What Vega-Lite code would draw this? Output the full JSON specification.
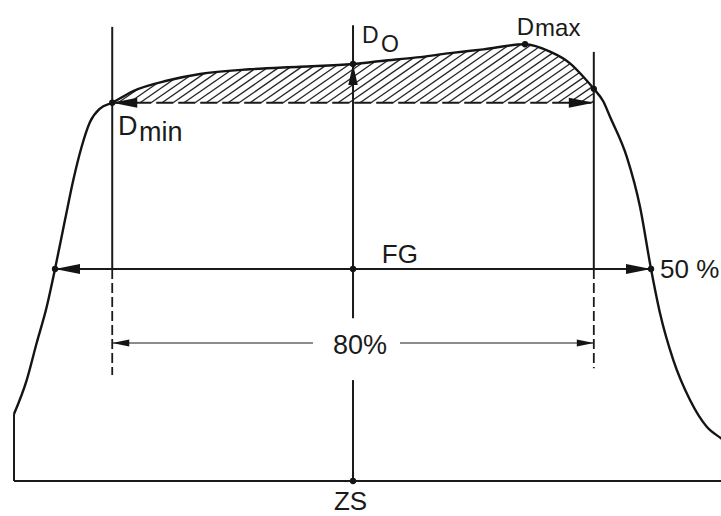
{
  "$schema": "https://vega.github.io/schema/vega-lite/v6.json",
  "description": "Dose profile across a radiation field: field size FG at the 50 % level, flatness zone at 80 % of FG, with D_O, D_max and D_min marked.",
  "width": 721,
  "height": 516,
  "autosize": {"type": "fit", "contains": "padding"},
  "padding": 0,
  "background": "white",
  "config": {"view": {"stroke": null}},
  "datasets": {
    "profile": [
      {"pos": -56.88, "dose": 15.8},
      {"pos": -54.75, "dose": 23.8},
      {"pos": -53.07, "dose": 32.6},
      {"pos": -51.39, "dose": 41.1},
      {"pos": -50.0, "dose": 50.0},
      {"pos": -48.32, "dose": 61.6},
      {"pos": -46.93, "dose": 71.0},
      {"pos": -45.52, "dose": 78.9},
      {"pos": -44.13, "dose": 84.67},
      {"pos": -42.45, "dose": 87.85},
      {"pos": -40.4, "dose": 89.2},
      {"pos": -36.86, "dose": 91.98},
      {"pos": -31.1, "dose": 94.46},
      {"pos": -25.67, "dose": 96.0},
      {"pos": -17.28, "dose": 97.1},
      {"pos": -8.89, "dose": 97.7},
      {"pos": 0, "dose": 98.35},
      {"pos": 5.08, "dose": 99.1},
      {"pos": 10.69, "dose": 99.9},
      {"pos": 16.28, "dose": 100.9},
      {"pos": 21.86, "dose": 101.8},
      {"pos": 28.86, "dose": 103.0},
      {"pos": 33.05, "dose": 101.25},
      {"pos": 36.41, "dose": 98.5},
      {"pos": 38.64, "dose": 95.35},
      {"pos": 40.4, "dose": 92.5},
      {"pos": 42.0, "dose": 89.5},
      {"pos": 43.12, "dose": 85.9},
      {"pos": 45.92, "dose": 76.5},
      {"pos": 48.15, "dose": 64.7},
      {"pos": 50.0, "dose": 50.0},
      {"pos": 51.51, "dose": 39.55},
      {"pos": 53.74, "dose": 28.5},
      {"pos": 56.54, "dose": 19.1},
      {"pos": 59.35, "dose": 12.8},
      {"pos": 61.74, "dose": 10.1},
      {"pos": 63.5, "dose": 8.4}
    ],
    "hatch": [
      {"pos": -39.43, "dose": 89.2, "pos2": -35.87, "dose2": 92.64},
      {"pos": -37.58, "dose": 89.2, "pos2": -32.68, "dose2": 93.97},
      {"pos": -35.74, "dose": 89.2, "pos2": -29.82, "dose2": 94.98},
      {"pos": -33.89, "dose": 89.2, "pos2": -27.23, "dose2": 95.71},
      {"pos": -32.05, "dose": 89.2, "pos2": -24.83, "dose2": 96.25},
      {"pos": -30.2, "dose": 89.2, "pos2": -22.75, "dose2": 96.48},
      {"pos": -28.36, "dose": 89.2, "pos2": -20.67, "dose2": 96.71},
      {"pos": -26.51, "dose": 89.2, "pos2": -18.59, "dose2": 96.94},
      {"pos": -24.66, "dose": 89.2, "pos2": -16.54, "dose2": 97.14},
      {"pos": -22.82, "dose": 89.2, "pos2": -14.55, "dose2": 97.29},
      {"pos": -20.97, "dose": 89.2, "pos2": -12.55, "dose2": 97.44},
      {"pos": -19.13, "dose": 89.2, "pos2": -10.54, "dose2": 97.6},
      {"pos": -17.28, "dose": 89.2, "pos2": -8.56, "dose2": 97.74},
      {"pos": -15.44, "dose": 89.2, "pos2": -6.59, "dose2": 97.85},
      {"pos": -13.59, "dose": 89.2, "pos2": -4.56, "dose2": 98.03},
      {"pos": -11.74, "dose": 89.2, "pos2": -2.58, "dose2": 98.17},
      {"pos": -9.9, "dose": 89.2, "pos2": -0.6, "dose2": 98.3},
      {"pos": -8.05, "dose": 89.2, "pos2": 1.53, "dose2": 98.58},
      {"pos": -6.21, "dose": 89.2, "pos2": 3.72, "dose2": 98.92},
      {"pos": -4.36, "dose": 89.2, "pos2": 5.89, "dose2": 99.24},
      {"pos": -2.52, "dose": 89.2, "pos2": 8.05, "dose2": 99.55},
      {"pos": -0.67, "dose": 89.2, "pos2": 10.2, "dose2": 99.85},
      {"pos": 1.17, "dose": 89.2, "pos2": 12.42, "dose2": 100.21},
      {"pos": 3.02, "dose": 89.2, "pos2": 14.65, "dose2": 100.59},
      {"pos": 4.87, "dose": 89.2, "pos2": 16.88, "dose2": 100.97},
      {"pos": 6.71, "dose": 89.2, "pos2": 19.11, "dose2": 101.35},
      {"pos": 8.56, "dose": 89.2, "pos2": 21.34, "dose2": 101.73},
      {"pos": 10.4, "dose": 89.2, "pos2": 23.57, "dose2": 102.11},
      {"pos": 12.25, "dose": 89.2, "pos2": 25.81, "dose2": 102.49},
      {"pos": 14.09, "dose": 89.2, "pos2": 28.02, "dose2": 102.85},
      {"pos": 15.94, "dose": 89.2, "pos2": 29.66, "dose2": 102.66},
      {"pos": 17.79, "dose": 89.2, "pos2": 30.97, "dose2": 102.13},
      {"pos": 19.63, "dose": 89.2, "pos2": 32.26, "dose2": 101.58},
      {"pos": 21.48, "dose": 89.2, "pos2": 33.44, "dose2": 100.92},
      {"pos": 23.32, "dose": 89.2, "pos2": 34.46, "dose2": 100.11},
      {"pos": 25.17, "dose": 89.2, "pos2": 35.47, "dose2": 99.29},
      {"pos": 27.01, "dose": 89.2, "pos2": 36.46, "dose2": 98.45},
      {"pos": 28.86, "dose": 89.2, "pos2": 37.2, "dose2": 97.36},
      {"pos": 30.7, "dose": 89.2, "pos2": 37.95, "dose2": 96.28},
      {"pos": 32.55, "dose": 89.2, "pos2": 38.69, "dose2": 95.19},
      {"pos": 34.4, "dose": 89.2, "pos2": 39.41, "dose2": 94.09},
      {"pos": 36.24, "dose": 89.2, "pos2": 40.12, "dose2": 92.96},
      {"pos": 38.09, "dose": 89.2, "pos2": 40.4, "dose2": 91.46},
      {"pos": 39.93, "dose": 89.2, "pos2": 40.4, "dose2": 89.65}
    ],
    "guides": [
      {"pos": -56.88, "dose": 0, "pos2": -56.88, "dose2": 15.8},
      {"pos": -40.4, "dose": 107.1, "pos2": -40.4, "dose2": 50},
      {"pos": 40.4, "dose": 101.2, "pos2": 40.4, "dose2": 50},
      {"pos": 0, "dose": 107.5, "pos2": 0, "dose2": 38.4},
      {"pos": 0, "dose": 23.8, "pos2": 0, "dose2": 0},
      {"pos": -50, "dose": 50, "pos2": 50, "dose2": 50},
      {"pos": -56.88, "dose": 0, "pos2": 62, "dose2": 0}
    ],
    "zoneEdges": [
      {"pos": -40.4, "dose": 50, "pos2": -40.4, "dose2": 25.0},
      {"pos": 40.4, "dose": 50, "pos2": 40.4, "dose2": 26.6}
    ],
    "dminLevel": [
      {"pos": -40.4, "dose": 89.2, "pos2": 40.4, "dose2": 89.2}
    ],
    "zoneSpan": [
      {"pos": -40.4, "dose": 32.55, "pos2": -6.71, "dose2": 32.55},
      {"pos": 7.89, "dose": 32.55, "pos2": 40.4, "dose2": 32.55}
    ],
    "arrowheads": [
      {"line": "FG", "dir": "left", "pos": -50, "dose": 50},
      {"line": "FG", "dir": "right", "pos": 50, "dose": 50},
      {"line": "Dmin", "dir": "left", "pos": -40.4, "dose": 89.2},
      {"line": "Dmin", "dir": "right", "pos": 40.4, "dose": 89.2},
      {"line": "Do", "dir": "up", "pos": 0, "dose": 98.35},
      {"line": "80%", "dir": "left", "pos": -40.4, "dose": 32.55},
      {"line": "80%", "dir": "right", "pos": 40.4, "dose": 32.55}
    ],
    "dots": [
      {"pos": -50, "dose": 50},
      {"pos": 0, "dose": 50},
      {"pos": 50, "dose": 50},
      {"pos": 0, "dose": 98.35},
      {"pos": 28.86, "dose": 103.0},
      {"pos": 40.4, "dose": 92.5},
      {"pos": -40.4, "dose": 89.2},
      {"pos": 0, "dose": 0}
    ],
    "labels": [
      {"sym": "FG", "text": "FG", "pos": 4.82, "dose": 51.3},
      {"sym": "80%", "text": "80%", "pos": -3.36, "dose": 29.95},
      {"sym": "50%", "text": "50 %", "pos": 51.51, "dose": 47.9},
      {"sym": "ZS", "text": "ZS", "pos": -3.2, "dose": -6.84},
      {"sym": "Dmin", "text": "D", "pos": -39.43, "dose": 81.6},
      {"sym": "Dmin", "text": "min", "pos": -35.9, "dose": 80.3},
      {"sym": "Do", "text": "D", "pos": 1.51, "dose": 103.2},
      {"sym": "Do", "text": "O", "pos": 4.7, "dose": 101.25},
      {"sym": "Dmax", "text": "D", "pos": 27.47, "dose": 105.2},
      {"sym": "Dmax", "text": "max", "pos": 30.54, "dose": 104.95}
    ]
  },
  "encoding": {
    "x": {"field": "pos", "type": "quantitative", "scale": {"domain": [-59.23, 61.74], "nice": false, "zero": false}, "axis": null},
    "y": {"field": "dose", "type": "quantitative", "scale": {"domain": [-8.25, 113.44], "nice": false, "zero": false}, "axis": null}
  },
  "layer": [
    {
      "data": {"name": "hatch"},
      "mark": {"type": "rule", "color": "#262626", "strokeWidth": 1.35},
      "encoding": {"x2": {"field": "pos2"}, "y2": {"field": "dose2"}}
    },
    {
      "data": {"name": "guides"},
      "mark": {"type": "rule", "color": "#1a1a1a", "strokeWidth": 2, "clip": true},
      "encoding": {"x2": {"field": "pos2"}, "y2": {"field": "dose2"}}
    },
    {
      "data": {"name": "zoneEdges"},
      "mark": {"type": "rule", "color": "#1a1a1a", "strokeWidth": 1.8, "strokeDash": [10, 4]},
      "encoding": {"x2": {"field": "pos2"}, "y2": {"field": "dose2"}}
    },
    {
      "data": {"name": "dminLevel"},
      "mark": {"type": "rule", "color": "#1a1a1a", "strokeWidth": 2, "strokeDash": [17, 5]},
      "encoding": {"x2": {"field": "pos2"}, "y2": {"field": "dose2"}}
    },
    {
      "data": {"name": "zoneSpan"},
      "mark": {"type": "rule", "color": "#1a1a1a", "strokeWidth": 1.1},
      "encoding": {"x2": {"field": "pos2"}, "y2": {"field": "dose2"}}
    },
    {
      "data": {"name": "profile"},
      "mark": {"type": "line", "interpolate": "monotone", "color": "#141414", "strokeWidth": 2.4, "clip": true},
      "encoding": {}
    },
    {
      "data": {"name": "arrowheads"},
      "transform": [{"filter": "datum.line === 'FG' || datum.line === 'Dmin'"}],
      "mark": {"type": "point", "filled": true, "color": "#141414", "opacity": 1, "size": 625, "strokeWidth": 0},
      "encoding": {
        "shape": {"field": "dir", "type": "nominal", "scale": {"domain": ["left", "right", "up"], "range": ["M0,0L2,-0.4L2,0.4Z", "M0,0L-2,-0.4L-2,0.4Z", "M0,0L-0.45,2L0.45,2Z"]}, "legend": null}
      }
    },
    {
      "data": {"name": "arrowheads"},
      "transform": [{"filter": "datum.line === 'Do'"}],
      "mark": {"type": "point", "filled": true, "color": "#141414", "opacity": 1, "size": 441, "strokeWidth": 0},
      "encoding": {
        "shape": {"field": "dir", "type": "nominal", "legend": null}
      }
    },
    {
      "data": {"name": "arrowheads"},
      "transform": [{"filter": "datum.line === '80%'"}],
      "mark": {"type": "point", "filled": true, "color": "#141414", "opacity": 1, "size": 289, "strokeWidth": 0},
      "encoding": {
        "shape": {"field": "dir", "type": "nominal", "legend": null}
      }
    },
    {
      "data": {"name": "dots"},
      "mark": {"type": "point", "shape": "circle", "filled": true, "color": "#141414", "opacity": 1, "size": 40},
      "encoding": {}
    },
    {
      "data": {"name": "labels"},
      "transform": [{"filter": "datum.sym === 'FG' || datum.sym === '50%'"}],
      "mark": {"type": "text", "font": "Liberation Sans", "fontSize": 26, "align": "left", "baseline": "alphabetic", "color": "#1a1a1a"},
      "encoding": {"text": {"field": "text"}}
    },
    {
      "data": {"name": "labels"},
      "transform": [{"filter": "datum.sym === '80%'"}],
      "mark": {"type": "text", "font": "Liberation Sans", "fontSize": 27, "align": "left", "baseline": "alphabetic", "color": "#1a1a1a"},
      "encoding": {"text": {"field": "text"}}
    },
    {
      "data": {"name": "labels"},
      "transform": [{"filter": "datum.sym === 'ZS'"}],
      "mark": {"type": "text", "font": "Liberation Sans", "fontSize": 26, "align": "left", "baseline": "alphabetic", "color": "#1a1a1a"},
      "encoding": {"text": {"field": "text"}}
    },
    {
      "data": {"name": "labels"},
      "transform": [{"filter": "datum.sym === 'Dmin'"}],
      "mark": {"type": "text", "font": "Liberation Sans", "fontSize": 27, "align": "left", "baseline": "alphabetic", "color": "#1a1a1a"},
      "encoding": {"text": {"field": "text"}}
    },
    {
      "data": {"name": "labels"},
      "transform": [{"filter": "datum.sym === 'Do'"}],
      "mark": {"type": "text", "font": "Liberation Sans", "fontSize": 23, "align": "left", "baseline": "alphabetic", "color": "#1a1a1a"},
      "encoding": {"text": {"field": "text"}}
    },
    {
      "data": {"name": "labels"},
      "transform": [{"filter": "datum.sym === 'Dmax'"}],
      "mark": {"type": "text", "font": "Liberation Sans", "fontSize": 24, "align": "left", "baseline": "alphabetic", "color": "#1a1a1a"},
      "encoding": {"text": {"field": "text"}}
    }
  ]
}
